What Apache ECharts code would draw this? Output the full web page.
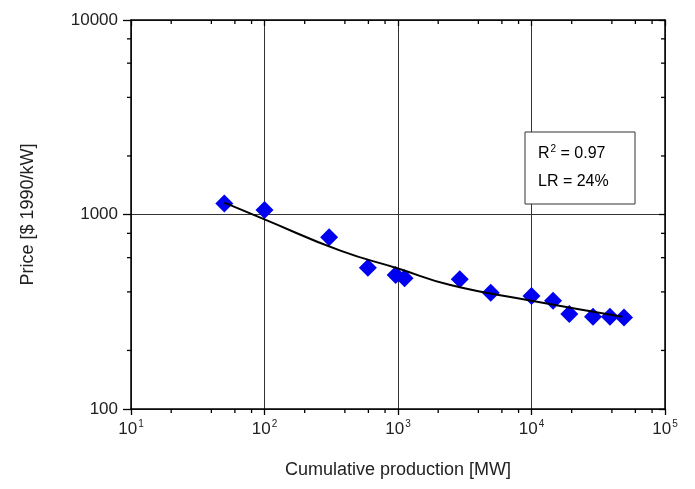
<!DOCTYPE html>
<html>
<head>
<meta charset="utf-8">
<script src="https://cdn.jsdelivr.net/npm/echarts@6/dist/echarts.min.js"></script>
<style>
  html, body { margin: 0; padding: 0; background: #fff; }
  #chart { width: 695px; height: 489px; }
</style>
</head>
<body>
<div id="chart"></div>
<script>
// data points
const pointsX = [50, 100, 305, 595, 960, 1120, 2900, 4950, 10000, 14500, 19200, 28900, 38700, 49300];
const pointsY = [1140, 1055, 763, 533, 489, 470, 464, 396, 381, 360, 308, 298, 298, 295];

// fitted curve
const fitX = [50, 100, 370, 1000, 2470, 10000, 48000];
const fitY = [1150, 944, 652, 528, 434, 360, 298];

// minor tick positions (2,4,6,8 in each decade)
const xMinorTicks = [20, 40, 60, 80, 200, 400, 600, 800, 2000, 4000, 6000, 8000, 20000, 40000, 60000, 80000];
const yMinorTicks = [200, 400, 600, 800, 2000, 4000, 6000, 8000];

const fontFamily = "'Liberation Sans', Arial, sans-serif";
const textColor = "#222";

const chart = echarts.init(document.getElementById("chart"));

function supLabel(value) {
  const e = Math.round(Math.log10(value));
  return "{b|10}{s|" + e + "}";
}

const tickLine = (x1, y1, x2, y2) => ({
  type: "line",
  shape: { x1: x1, y1: y1, x2: x2, y2: y2 },
  style: { stroke: "#000", lineWidth: 1.3 },
});

const boxRich = {
  n: { fontSize: 16, color: textColor, fontFamily: fontFamily },
  s: { fontSize: 10, color: textColor, fontFamily: fontFamily, padding: [0, 0, 9, 1] },
};

const option = {
  animation: false,
  backgroundColor: "#fff",
  grid: {
    left: 131,
    right: 30,
    top: 20,
    bottom: 80,
    containLabel: false,
    outerBoundsMode: "none",
  },
  xAxis: [
    {
      type: "log",
      logBase: 10,
      min: 10,
      max: 100000,
      splitNumber: 4,
      position: "bottom",
      name: "Cumulative production [MW]",
      nameLocation: "middle",
      nameGap: 52,
      nameTextStyle: { fontSize: 18, color: textColor, fontFamily: fontFamily },
      axisLine: { lineStyle: { color: "#000", width: 1.5 } },
      axisTick: { length: 6, inside: false, lineStyle: { color: "#000", width: 1.3 } },
      splitLine: { show: true, lineStyle: { color: "#333", width: 1 } },
      axisLabel: {
        margin: 10,
        formatter: supLabel,
        rich: {
          b: { fontSize: 17, color: textColor, fontFamily: fontFamily },
          s: { fontSize: 10, color: textColor, fontFamily: fontFamily, padding: [0, 0, 11, 1] },
        },
      },
    },
    {
      type: "log",
      logBase: 10,
      min: 10,
      max: 100000,
      splitNumber: 4,
      position: "top",
      axisLine: { lineStyle: { color: "#000", width: 1.5 } },
      axisTick: { length: 6, inside: true, lineStyle: { color: "#000", width: 1.3 } },
      axisLabel: { show: false },
      splitLine: { show: false },
    },
  ],
  yAxis: [
    {
      type: "log",
      logBase: 10,
      min: 100,
      max: 10000,
      splitNumber: 2,
      position: "left",
      name: "Price [$ 1990/kW]",
      nameLocation: "middle",
      nameGap: 94,
      nameRotate: 90,
      nameTextStyle: { fontSize: 18, color: textColor, fontFamily: fontFamily },
      axisLine: { lineStyle: { color: "#000", width: 1.5 } },
      axisTick: { length: 8, inside: false, lineStyle: { color: "#000", width: 1.3 } },
      splitLine: { show: true, lineStyle: { color: "#333", width: 1 } },
      axisLabel: {
        margin: 13,
        fontSize: 17,
        color: textColor,
        fontFamily: fontFamily,
        formatter: (v) => String(Math.round(v)),
      },
    },
    {
      type: "log",
      logBase: 10,
      min: 100,
      max: 10000,
      splitNumber: 2,
      position: "right",
      axisLine: { lineStyle: { color: "#000", width: 1.5 } },
      axisTick: { length: 6, inside: true, lineStyle: { color: "#000", width: 1.3 } },
      axisLabel: { show: false },
      splitLine: { show: false },
    },
  ],
  graphic: [
    {
      type: "rect",
      shape: { x: 525, y: 132, width: 110, height: 72 },
      style: { fill: "#fff", stroke: "#333", lineWidth: 1 },
      z: 10,
    },
    {
      type: "text",
      x: 538,
      y: 144,
      style: { text: "{n|R}{s|2}{n| = 0.97}", rich: boxRich },
      z: 11,
    },
    {
      type: "text",
      x: 538,
      y: 174,
      style: { text: "{n|LR = 24%}", rich: boxRich },
      z: 11,
    },
  ],
  series: [
    {
      // minor ticks on x axes
      type: "custom",
      silent: true,
      clip: false,
      data: xMinorTicks.map((v) => [v, 100]),
      renderItem: (params, api) => {
        const b = api.coord([api.value(0), 100]);
        const t = api.coord([api.value(0), 10000]);
        return {
          type: "group",
          children: [tickLine(b[0], b[1], b[0], b[1] + 4), tickLine(t[0], t[1], t[0], t[1] + 4)],
        };
      },
    },
    {
      // minor ticks on y axes
      type: "custom",
      silent: true,
      clip: false,
      data: yMinorTicks.map((v) => [10, v]),
      renderItem: (params, api) => {
        const l = api.coord([10, api.value(1)]);
        const r = api.coord([100000, api.value(1)]);
        return {
          type: "group",
          children: [tickLine(l[0], l[1], l[0] - 4, l[1]), tickLine(r[0], r[1], r[0] - 4, r[1])],
        };
      },
    },
    {
      type: "scatter",
      symbol: "diamond",
      symbolSize: 18,
      itemStyle: { color: "#0000f0", opacity: 1 },
      data: pointsX.map((x, i) => [x, pointsY[i]]),
      z: 3,
    },
    {
      type: "line",
      smooth: 0.5,
      showSymbol: false,
      symbol: "none",
      lineStyle: { color: "#000", width: 2 },
      data: fitX.map((x, i) => [x, fitY[i]]),
      z: 4,
    },
  ],
};

chart.setOption(option);
</script>
</body>
</html>
